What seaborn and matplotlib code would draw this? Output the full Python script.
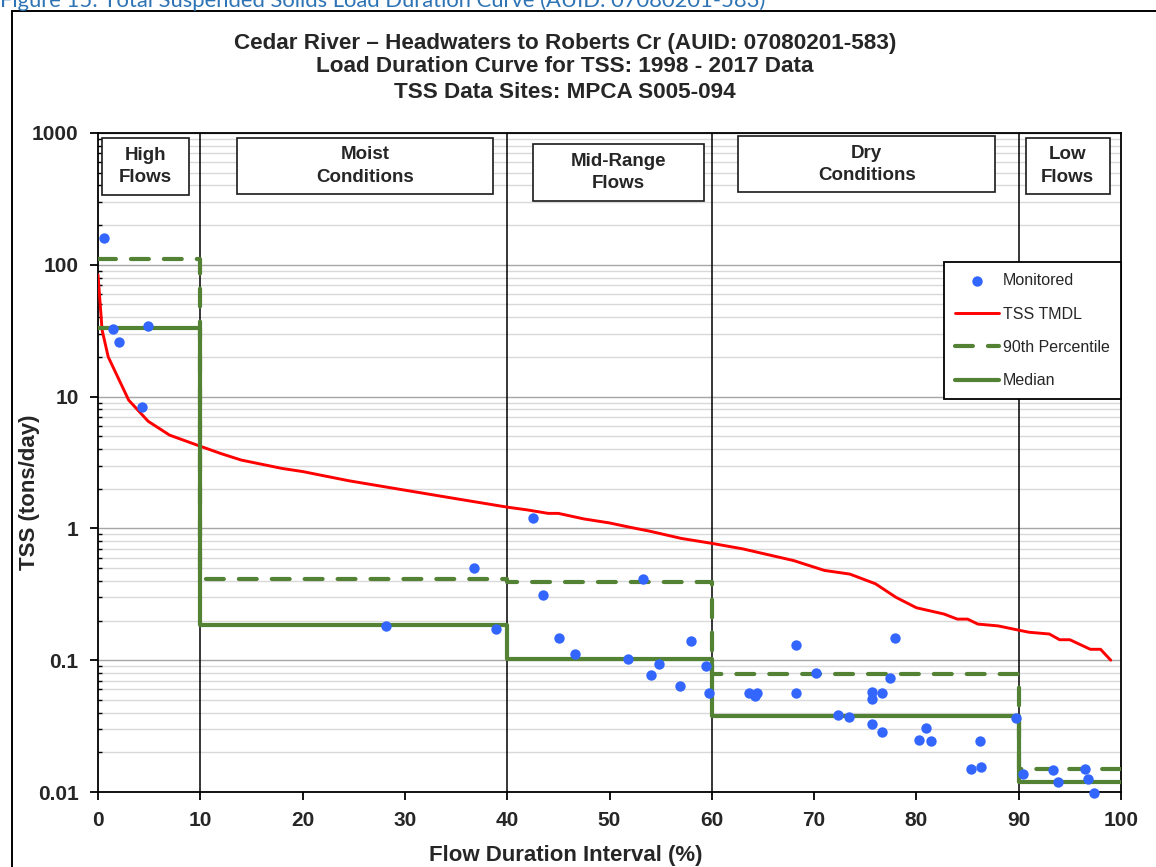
import numpy as np
import pandas as pd
import matplotlib
matplotlib.use("Agg")
import matplotlib.pyplot as plt
import matplotlib.ticker as mticker
import matplotlib.transforms as mtransforms
from matplotlib.patches import Rectangle
import seaborn as sns

# ---- data ---------------------------------------------------------------
# Monitored TSS loads: flow duration interval (%) and load (tons/day)
monitored_pct = [0.6, 1.5, 2.1, 4.3, 4.9,
                 28.2, 36.8, 38.9,
                 42.5, 43.5, 45.1, 46.6, 51.8, 53.3, 54.1, 54.8, 56.9, 58.0, 59.4, 59.7,
                 63.6, 64.2, 64.4, 68.2, 68.2, 70.2, 72.3, 73.4, 75.7, 75.7, 75.7, 76.6,
                 76.6, 77.4, 77.9, 80.3, 80.9, 81.4, 85.3, 86.2, 86.3, 89.7,
                 90.4, 93.4, 93.8, 96.5, 96.8, 97.4]
monitored_tss = [160, 32.5, 26, 8.4, 34.5,
                 0.182, 0.50, 0.173,
                 1.20, 0.314, 0.147, 0.112, 0.102, 0.41, 0.077, 0.094, 0.064, 0.140, 0.091, 0.0565,
                 0.0565, 0.0536, 0.056, 0.1315, 0.0565, 0.080, 0.0383, 0.0372, 0.0575, 0.0506, 0.0327, 0.056,
                 0.0285, 0.0735, 0.147, 0.0249, 0.0306, 0.0245, 0.0150, 0.0243, 0.0155, 0.0365,
                 0.0137, 0.0146, 0.0119, 0.0149, 0.0126, 0.0099]

# TSS TMDL load duration curve
tmdl_pct = [0, 0.4, 1.0, 3.0, 4.9, 7.0, 10.0, 12, 14, 18, 20, 24.5, 30, 35, 40, 42, 44, 45,
            47.5, 50, 52, 54, 57, 60, 63, 68, 71, 73.5, 76, 78, 80, 82.7, 84, 85, 86, 88,
            90, 91, 93, 94, 95, 97, 98, 99]
tmdl_tss = [84, 32, 20, 9.4, 6.5, 5.1, 4.2, 3.7, 3.3, 2.85, 2.7, 2.3, 1.95, 1.68, 1.45, 1.38, 1.3, 1.3,
            1.18, 1.1, 1.02, 0.95, 0.84, 0.77, 0.70, 0.57, 0.48, 0.45, 0.38, 0.30, 0.25, 0.224, 0.205, 0.205,
            0.188, 0.182, 0.169, 0.163, 0.158, 0.143, 0.143, 0.121, 0.121, 0.100]

# Flow zones with their 90th percentile and median monitored loads
zone_edges = [0, 10, 40, 60, 90, 100]
zone_names = ["High\nFlows", "Moist\nConditions", "Mid-Range\nFlows", "Dry\nConditions", "Low\nFlows"]
zone_p90 = [110, 0.41, 0.39, 0.078, 0.015]
zone_median = [33, 0.185, 0.103, 0.038, 0.012]

title_lines = ["Cedar River \u2013 Headwaters to Roberts Cr (AUID: 07080201-583)",
               "Load Duration Curve for TSS: 1998 - 2017 Data",
               "TSS Data Sites: MPCA S005-094"]
y_ticks = [0.01, 0.1, 1, 10, 100, 1000]
y_tick_labels = ["0.01", "0.1", "1", "10", "100", "1000"]
x_ticks = [0, 10, 20, 30, 40, 50, 60, 70, 80, 90, 100]

# ---- style --------------------------------------------------------------
sns.set_theme(style="white")
plt.rcParams["font.family"] = ["Liberation Sans", "DejaVu Sans"]

W, H = 1156, 867
fig = plt.figure(figsize=(W / 100, H / 100), dpi=100)
fig.patch.set_facecolor("white")


def fx(px):
    return px / W


def fy(py):
    return 1 - py / H


ax = fig.add_axes([fx(98), fy(792), fx(1121) - fx(98), fy(133) - fy(792)])
ax.set_facecolor("white")

BLUE = "#3366FF"
RED = "#FF0000"
GREEN = "#548235"

# ---- series -------------------------------------------------------------
df_obs = pd.DataFrame({"pct": monitored_pct, "tss": monitored_tss})
df_tmdl = pd.DataFrame({"pct": tmdl_pct, "tss": tmdl_tss})
df_p90 = pd.DataFrame({"pct": zone_edges, "tss": zone_p90 + [zone_p90[-1]]})
df_med = pd.DataFrame({"pct": zone_edges, "tss": zone_median + [zone_median[-1]]})

sns.lineplot(data=df_tmdl, x="pct", y="tss", ax=ax, color=RED, lw=2.1,
             estimator=None, sort=False, label="TSS TMDL", zorder=3)
sns.lineplot(data=df_p90, x="pct", y="tss", ax=ax, color=GREEN, lw=3.0,
             estimator=None, sort=False, drawstyle="steps-post",
             dashes=False, label="90th Percentile", zorder=4)
ax.lines[-1].set_dashes((4.3, 3.6))
ax.lines[-1].set_dash_capstyle("round")
sns.lineplot(data=df_med, x="pct", y="tss", ax=ax, color=GREEN, lw=3.0,
             estimator=None, sort=False, drawstyle="steps-post",
             label="Median", zorder=5)
sns.scatterplot(data=df_obs, x="pct", y="tss", ax=ax, color=BLUE, s=56,
                linewidth=0, label="Monitored", zorder=6, clip_on=False)

# zone dividers
for e in zone_edges[1:-1]:
    ax.axvline(e, color="black", lw=1.1, zorder=2)

# ---- axes ---------------------------------------------------------------
ax.set_yscale("log")
ax.set_xlim(0, 100)
ax.set_ylim(0.01, 1000)
ax.set_xlabel("")
ax.set_ylabel("")

ax.yaxis.set_major_locator(mticker.FixedLocator(y_ticks))
ax.yaxis.set_major_formatter(mticker.FixedFormatter(y_tick_labels))
ax.yaxis.set_minor_locator(mticker.LogLocator(base=10, subs=np.arange(2, 10)))
ax.yaxis.set_minor_formatter(mticker.NullFormatter())
ax.xaxis.set_major_locator(mticker.FixedLocator(x_ticks))

ax.yaxis.grid(True, which="major", color="#A6A6A6", lw=1.0, zorder=0)
ax.yaxis.grid(True, which="minor", color="#D9D9D9", lw=1.0, zorder=0)
ax.xaxis.grid(False)
ax.set_axisbelow(True)

for s in ax.spines.values():
    s.set_color("black")
    s.set_linewidth(1.3)

ax.tick_params(axis="both", which="major", direction="out", length=6, width=1.3,
               color="black", labelsize=15, pad=8)
ax.tick_params(axis="y", which="minor", direction="in", length=3, width=1.0,
               color="black", left=True)
ax.tick_params(axis="y", which="major", left=True)
ax.tick_params(axis="x", which="major", bottom=True)
for lab in ax.get_xticklabels() + ax.get_yticklabels():
    lab.set_fontweight("bold")

# ---- zone label boxes ---------------------------------------------------
trans = mtransforms.blended_transform_factory(ax.transData, ax.transAxes)
zone_boxes = [(0.42, 8.9, 0.906, 0.992),
              (13.56, 38.6, 0.908, 0.992),
              (42.5, 59.2, 0.897, 0.983),
              (62.6, 87.7, 0.910, 0.995),
              (90.7, 98.9, 0.907, 0.993)]
for name, (x0, x1, y0, y1) in zip(zone_names, zone_boxes):
    ax.add_patch(Rectangle((x0, y0), x1 - x0, y1 - y0, transform=trans,
                           facecolor="white", edgecolor="#1a1a1a", lw=1.2, zorder=7))
    ax.text((x0 + x1) / 2, (y0 + y1) / 2, name, transform=trans, ha="center",
            va="center", fontsize=13.5, fontweight="bold", linespacing=1.4, zorder=8)

# ---- legend -------------------------------------------------------------
handles, labels = ax.get_legend_handles_labels()
order = ["Monitored", "TSS TMDL", "90th Percentile", "Median"]
hmap = dict(zip(labels, handles))
leg = ax.legend([hmap[k] for k in order], order, loc="upper right",
                bbox_to_anchor=(fx(1121), fy(262)), bbox_transform=fig.transFigure,
                borderaxespad=0, fontsize=11.5, frameon=True, fancybox=False,
                edgecolor="black", framealpha=1, handlelength=2.75,
                handletextpad=0.25, labelspacing=1.15, borderpad=0.7)
leg.get_frame().set_linewidth(1.3)
leg.set_zorder(9)

# ---- titles and labels --------------------------------------------------
for txt, py in zip(title_lines, [43, 67, 92]):
    fig.text(fx(565), fy(py), txt, ha="center", va="center", fontsize=16.2,
             fontweight="bold")
fig.text(fx(566), fy(856), "Flow Duration Interval (%)", ha="center", va="center",
         fontsize=16, fontweight="bold")
fig.text(fx(29.5), fy(492), "TSS (tons/day)", ha="center", va="center",
         fontsize=16, fontweight="bold", rotation=90)

# document caption above the chart frame
fig.text(fx(0), fy(7), "Figure 15: Total Suspended Solids Load Duration Curve (AUID: 07080201-583)",
         ha="left", va="baseline", fontsize=15.8, color="#2E74B5", family=["Lato", "DejaVu Sans"])

# chart frame
fig.add_artist(Rectangle((fx(11.5), -0.1), 1.2, fy(11) + 0.1, transform=fig.transFigure,
                         fill=False, edgecolor="black", lw=1.4))

fig.savefig("out.png", dpi=100)
